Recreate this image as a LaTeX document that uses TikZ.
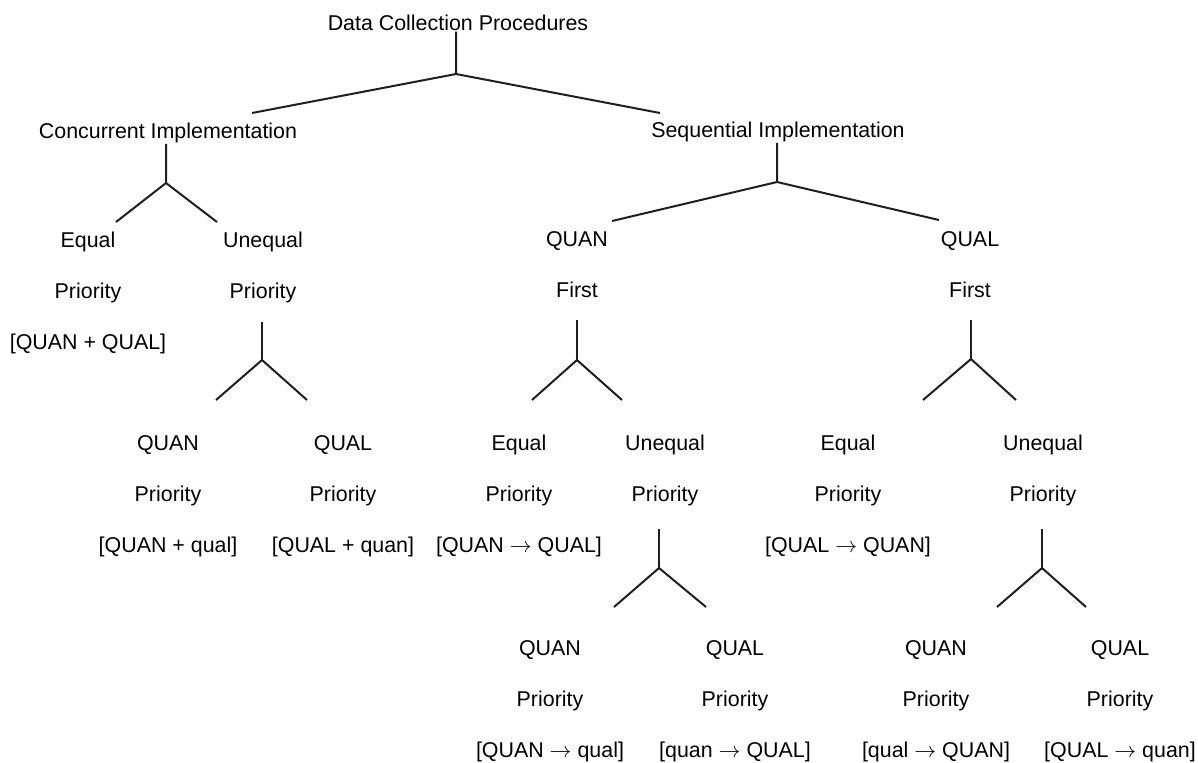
\documentclass[tikz,border=0pt]{standalone}
\usepackage{fontspec}
\setmainfont{Liberation Sans}

\newcommand{\then}{\ensuremath{\rightarrow}}

\tikzset{
  lbl/.style={anchor=north, inner sep=0pt, align=center,
    font=\fontsize{10.7}{25.5}\selectfont},
  link/.style={line width=1pt, black!88},
}

\begin{document}
\begin{tikzpicture}[x=0.5pt, y=-0.5pt]
        \useasboundingbox (0,0) rectangle (1198,762);
        % levels 1 and 2
        \node[lbl] (title) at (458,15) {Data Collection Procedures};
        \node[lbl] (conc) at (168,123) {Concurrent Implementation};
        \node[lbl] (seq) at (778,122) {Sequential Implementation};
        % level 3
        \node[lbl] (cEqual) at (88,232) {Equal\\Priority\\{[QUAN + QUAL]}};
        \node[lbl] (cUnequal) at (263,232) {Unequal\\Priority};
        \node[lbl] (quanFirst) at (577,231) {QUAN\\First};
        \node[lbl] (qualFirst) at (970,231) {QUAL\\First};
        % level 4
        \node[lbl] (cQuanPrio) at (168,435) {QUAN\\Priority\\{[QUAN + qual]}};
        \node[lbl] (cQualPrio) at (343,435) {QUAL\\Priority\\{[QUAL + quan]}};
        \node[lbl] (quanEqual) at (519,435) {Equal\\Priority\\{[QUAN \then{} QUAL]}};
        \node[lbl] (quanUnequal) at (665,435) {Unequal\\Priority};
        \node[lbl] (qualEqual) at (848,435) {Equal\\Priority\\{[QUAL \then{} QUAN]}};
        \node[lbl] (qualUnequal) at (1043,435) {Unequal\\Priority};
        % level 5
        \node[lbl] (quanQuanPrio) at (550,640) {QUAN\\Priority\\{[QUAN \then{} qual]}};
        \node[lbl] (quanQualPrio) at (735,640) {QUAL\\Priority\\{[quan \then{} QUAL]}};
        \node[lbl] (qualQuanPrio) at (936,640) {QUAN\\Priority\\{[qual \then{} QUAN]}};
        \node[lbl] (qualQualPrio) at (1120,640) {QUAL\\Priority\\{[QUAL \then{} quan]}};

        % forks
        \coordinate (jTitle) at (456,74);
        \coordinate (jTitleL) at (252,113);
        \coordinate (jTitleR) at (660,113);
        \draw[link] (jTitleL) -- (jTitle) -- (jTitleR) (jTitle) -- (title.south -| jTitle);

        \coordinate (jConc) at (166,183);
        \coordinate (jConcL) at (116,222);
        \coordinate (jConcR) at (217,222);
        \draw[link] (jConcL) -- (jConc) -- (jConcR) (jConc) -- (conc.south -| jConc);

        \coordinate (jSeq) at (777,182);
        \coordinate (jSeqL) at (612,221);
        \coordinate (jSeqR) at (939,220);
        \draw[link] (jSeqL) -- (jSeq) -- (jSeqR) (jSeq) -- (seq.south -| jSeq);

        \coordinate (jCUnequal) at (262,360);
        \coordinate (jCUnequalL) at (216,400);
        \coordinate (jCUnequalR) at (307,400);
        \draw[link] (jCUnequalL) -- (jCUnequal) -- (jCUnequalR);
        \draw[link, shorten >=9pt] (jCUnequal) -- (cUnequal.south -| jCUnequal);

        \coordinate (jQuanFirst) at (577,360);
        \coordinate (jQuanFirstL) at (532,400);
        \coordinate (jQuanFirstR) at (622,400);
        \draw[link] (jQuanFirstL) -- (jQuanFirst) -- (jQuanFirstR);
        \draw[link, shorten >=11pt] (jQuanFirst) -- (quanFirst.south -| jQuanFirst);

        \coordinate (jQualFirst) at (971,359);
        \coordinate (jQualFirstL) at (923,400);
        \coordinate (jQualFirstR) at (1016,400);
        \draw[link] (jQualFirstL) -- (jQualFirst) -- (jQualFirstR);
        \draw[link, shorten >=11pt] (jQualFirst) -- (qualFirst.south -| jQualFirst);

        \coordinate (jQuanUnequal) at (659,568);
        \coordinate (jQuanUnequalL) at (614,607);
        \coordinate (jQuanUnequalR) at (706,607);
        \draw[link] (jQuanUnequalL) -- (jQuanUnequal) -- (jQuanUnequalR);
        \draw[link, shorten >=11pt] (jQuanUnequal) -- (quanUnequal.south -| jQuanUnequal);

        \coordinate (jQualUnequal) at (1042,568);
        \coordinate (jQualUnequalL) at (997,607);
        \coordinate (jQualUnequalR) at (1086,607);
        \draw[link] (jQualUnequalL) -- (jQualUnequal) -- (jQualUnequalR);
        \draw[link, shorten >=11pt] (jQualUnequal) -- (qualUnequal.south -| jQualUnequal);
    \end{tikzpicture}
\end{document}
